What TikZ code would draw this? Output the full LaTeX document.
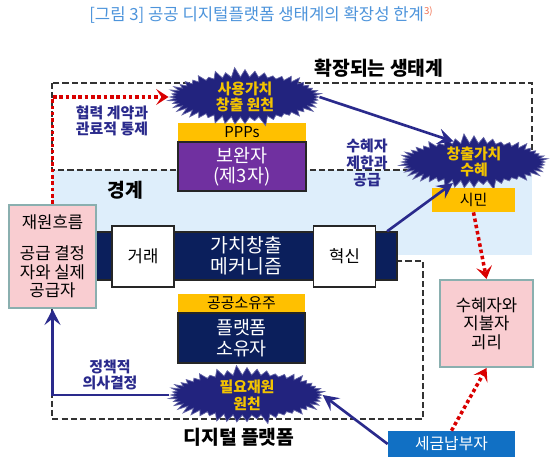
\documentclass[tikz,border=0pt]{standalone}
\usepackage{fontspec}
\setmainfont{Noto Sans CJK KR}
\usetikzlibrary{arrows.meta, positioning, shapes.symbols}
\definecolor{titleblue}{HTML}{4D94DB}
\definecolor{noteorange}{HTML}{F07050}
\definecolor{burstnavy}{HTML}{22237E}
\definecolor{burstgold}{HTML}{F2C300}
\definecolor{gold}{HTML}{FFC000}
\definecolor{partner}{HTML}{7030A0}
\definecolor{deepnavy}{HTML}{0B1F5C}
\definecolor{lightblue}{HTML}{DEEEFB}
\definecolor{pinkfill}{HTML}{F9CDD1}
\definecolor{tealedge}{HTML}{8AAFAF}
\definecolor{taxblue}{HTML}{1170C4}
\definecolor{arrownavy}{HTML}{2A2A8C}
\definecolor{dotred}{HTML}{D90000}

\begin{document}
\begin{tikzpicture}[x=0.02cm, y=-0.02cm,
  burst/.style={starburst, starburst points=48, starburst point height=0.2cm,
    random starburst=11, fill=burstnavy, draw=burstnavy!70, text=burstgold,
    font=\fontsize{8.5}{9.5}\selectfont\bfseries, align=center,
    inner xsep=0pt, inner ysep=-5pt},
  tagbox/.style={fill=gold, minimum width=2.56cm, minimum height=0.38cm,
    inner sep=0pt, font=\fontsize{8.5}{9}\selectfont},
  darkbox/.style={draw=black!85, line width=0.8pt, text=white, align=center,
    inner sep=0pt, font=\fontsize{10.5}{11.5}\selectfont},
  whitebox/.style={draw=black!85, line width=0.8pt, fill=white,
    minimum width=1.24cm, minimum height=1.22cm, font=\fontsize{9.5}{10}\selectfont},
  pinkbox/.style={draw=tealedge, line width=1.2pt, fill=pinkfill, align=center,
    inner sep=0pt, font=\fontsize{9.5}{10.5}\selectfont},
  frame/.style={draw=black!80, line width=1.1pt, dash pattern=on 3.5pt off 1.8pt},
  note/.style={text=arrownavy, align=center, font=\fontsize{8.5}{9.5}\selectfont\bfseries},
  heading/.style={font=\fontsize{11}{12}\selectfont\bfseries},
  navyarrow/.style={-{Stealth[length=9pt,width=9pt,inset=3.5pt]}, arrownavy, line width=1.5pt},
  redarrow/.style={-{Stealth[length=7pt,width=9pt,inset=3pt]}, dotred, line width=2pt,
    dash pattern=on 2pt off 1.6pt}
]
  \useasboundingbox (0,0) rectangle (550,462);
  % Title
  \node[font=\fontsize{9.5}{11}\selectfont, text=titleblue] (title) at (261,15)
        {[그림 3] 공공 디지털플랫폼 생태계의 확장성 한계\raisebox{0.7ex}{\fontsize{5.5}{6}\selectfont\color{noteorange}3)}};
  % Boundary band and frames
  \fill[lightblue] (52,170) rectangle (532,255);
  \draw[frame] (52,83) rectangle (532,170);
  \draw[frame] (52,261) rectangle (423,419);
  \node[heading] (eco) at (379,68) {확장되는 생태계};
  \node[heading] (edge) at (125,190) {경계};
  \node[heading] (plat) at (239,437) {디지털 플랫폼};
  % Value creation mechanism
  \node[darkbox, fill=deepnavy, minimum width=6.02cm, minimum height=0.96cm,
        font=\fontsize{11}{12}\selectfont] (band) at (246.5,256) {가치창출\\메커니즘};
  \node[whitebox] (trade) at (143,256.5) {거래};
  \node[whitebox] (innov) at (344.5,256.5) {혁신};
  % Complementors and owners
  \node[tagbox] (ppp) at (242,132.5) {PPPs};
  \node[darkbox, fill=partner, minimum width=2.56cm, minimum height=0.98cm] (comp)
        at (242,166.5) {보완자\\(제3자)};
  \node[tagbox, minimum width=2.54cm] (pubown) at (241.5,303.5) {공공소유주};
  \node[darkbox, fill=deepnavy, minimum width=2.54cm, minimum height=1cm] (owner)
        at (241.5,338) {플랫폼\\소유자};
  % Side boxes
  \node[pinkbox, minimum width=1.74cm, minimum height=2.06cm] (flow) at (52.5,256.5)
        {재원흐름\\[7pt]공급 결정\\자와 실제\\공급자};
  \node[pinkbox, minimum width=1.86cm, minimum height=1.74cm] (gap) at (486.5,323.5)
        {수혜자와\\지불자\\괴리};
  \node[fill=taxblue, text=white, minimum width=2.54cm, minimum height=0.52cm,
        inner sep=0pt, font=\fontsize{9}{10}\selectfont] (tax) at (451.5,444) {세금납부자};
  % Starbursts
  \node[burst, minimum width=3.2cm, minimum height=1.2cm] (usev) at (245,97) {사용가치\\창출 원천};
  \node[burst, minimum width=3.1cm, minimum height=1.15cm] (gain) at (474,162) {창출가치\\수혜};
  \node[tagbox, minimum width=1.66cm, minimum height=0.48cm] (citizen) at (473.5,200) {시민};
  \node[burst, minimum width=3.25cm, minimum height=1.2cm] (need) at (247,395) {필요재원\\원천};
  % Labels
  \node[note] (coop) at (112,121) {협력 계약과\\관료적 통제};
  \node[note] (limit) at (367,163) {수혜자\\제한과\\공급};
  \node[note] (policy) at (110,375) {정책적\\의사결정};
  % Arrows
  \draw[navyarrow] (usev.east) -- (gain.north west);
  \draw[navyarrow] ([xshift=-6pt]band.north east) -- (gain.south west);
  \draw[navyarrow] (tax.west) -- (need.east);
  \draw[navyarrow] (need.west) -| (flow.south);
  \draw[redarrow] (flow.north) |- (usev.west);
  \draw[redarrow] (citizen.south) -- (gap.north);
  \draw[redarrow] (tax.north) -- (gap.south);
\end{tikzpicture}
\end{document}
